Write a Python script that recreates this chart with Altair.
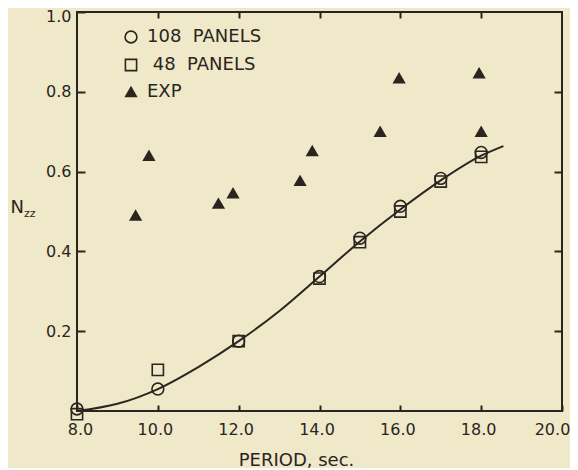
import altair as alt
import pandas as pd

# ---- data ----
period_108 = [8.0, 10.0, 12.0, 14.0, 15.0, 16.0, 17.0, 18.0]
n_108 = [0.005, 0.055, 0.175, 0.337, 0.433, 0.513, 0.583, 0.648]

period_48 = [8.0, 10.0, 12.0, 14.0, 15.0, 16.0, 17.0, 18.0]
n_48 = [-0.008, 0.103, 0.175, 0.332, 0.423, 0.500, 0.575, 0.637]

period_exp = [9.45, 9.78, 11.5, 11.86, 13.52, 13.82, 15.5, 15.97, 17.95, 18.0]
n_exp = [0.49, 0.64, 0.52, 0.546, 0.577, 0.652, 0.70, 0.834, 0.847, 0.70]

curve_period = [8.0, 9.0, 10.0, 11.0, 12.0, 13.0, 14.0, 15.0, 16.0, 17.0, 18.0, 18.55]
curve_n = [0.0, 0.018, 0.055, 0.11, 0.175, 0.25, 0.337, 0.425, 0.505, 0.578, 0.64, 0.664]

series_names = ["108\u00a0\u00a0PANELS", "\u200b\u00a048\u00a0\u00a0PANELS", "EXP"]
x_ticks = [8.0, 10.0, 12.0, 14.0, 16.0, 18.0, 20.0]
x_ticks_top = [10.0, 12.0, 14.0, 16.0, 18.0]
y_ticks = [0.2, 0.4, 0.6, 0.8, 1.0]
y_ticks_right = [0.2, 0.4, 0.6, 0.8]
subscript_text = ["zz"]

INK = "#2b2520"
BG = "#efe9c9"
FONT = "DejaVu Sans"

points = pd.DataFrame(
    {
        "period": period_108 + period_48 + period_exp,
        "n": n_108 + n_48 + n_exp,
        "series": [series_names[0]] * len(period_108)
        + [series_names[1]] * len(period_48)
        + [series_names[2]] * len(period_exp),
    }
)
curve = pd.DataFrame({"period": curve_period, "n": curve_n})
sub = pd.DataFrame({"t": subscript_text})

xscale = alt.Scale(domain=[8, 20], nice=False, zero=False)
yscale = alt.Scale(domain=[0, 1], nice=False, zero=False)

x_bottom = alt.Axis(
    orient="bottom", values=x_ticks, format=".1f", offset=-6, tickSize=6, tickWidth=2,
    tickColor=INK, domain=False, grid=False, labelFont=FONT, labelFontSize=16,
    labelColor=INK, labelPadding=10, labelFlush=False,
    labelOffset={
        "condition": [
            {"test": "datum.value <= 8", "value": 3},
            {"test": "datum.value >= 20", "value": -10},
        ],
        "value": -3,
    },
    title="PERIOD, sec.", titleFont=FONT,
    titleFontSize=18, titleFontWeight="normal", titleColor=INK, titleX=219,
    titleY=60, titleAnchor="start", titleAlign="center", titleBaseline="alphabetic",
)
y_left = alt.Axis(
    orient="left", values=y_ticks, format=".1f", offset=-8, tickSize=8, tickWidth=2,
    tickColor=INK, domain=False, grid=False, labelFont=FONT, labelFontSize=16,
    labelColor=INK, labelPadding=6, labelFlush=False,
    labelOffset={"condition": {"test": "datum.value >= 0.99", "value": 4}, "value": 0},
    title="N", titleFont=FONT, titleFontSize=18,
    titleFontWeight="normal", titleColor=INK, titleAngle=0, titleX=-75, titleY=200,
    titleAlign="left", titleBaseline="alphabetic",
)
x_top = alt.Axis(
    orient="top", values=x_ticks_top, offset=-6, tickSize=6, tickWidth=2,
    tickColor=INK, domain=False, grid=False, labels=False, title=None,
)
y_right = alt.Axis(
    orient="right", values=y_ticks_right, offset=-8, tickSize=8, tickWidth=2,
    tickColor=INK, domain=False, grid=False, labels=False, title=None,
)

legend = alt.Legend(
    title=None, orient="none", legendX=45, legendY=16, padding=0,
    rowPadding=9, labelFont=FONT, labelFontSize=18, labelColor=INK,
    labelOffset=7, symbolStrokeWidth=1.6, labelBaseline="middle",
)

line = alt.Chart(curve).mark_line(
    color=INK, strokeWidth=2, interpolate="monotone"
).encode(
    x=alt.X("period:Q", scale=xscale, axis=x_bottom),
    y=alt.Y("n:Q", scale=yscale, axis=y_left),
)

pts = alt.Chart(points).mark_point(strokeWidth=1.6, opacity=1).encode(
    x=alt.X("period:Q", scale=xscale, axis=x_top),
    y=alt.Y("n:Q", scale=yscale, axis=y_right),
    shape=alt.Shape(
        "series:N",
        scale=alt.Scale(domain=series_names, range=["circle", "square", "triangle-up"]),
        legend=legend,
    ),
    fill=alt.Fill(
        "series:N",
        scale=alt.Scale(domain=series_names, range=["rgba(0,0,0,0)", "rgba(0,0,0,0)", INK]),
        legend=legend,
    ),
    stroke=alt.Stroke(
        "series:N",
        scale=alt.Scale(domain=series_names, range=[INK, INK, INK]),
        legend=legend,
    ),
    size=alt.Size(
        "series:N",
        scale=alt.Scale(domain=series_names, range=[140, 110, 140]),
        legend=legend,
    ),
)

subscript = alt.Chart(sub).mark_text(
    font=FONT, fontSize=11, color=INK, align="left", baseline="alphabetic"
).encode(text="t:N", x=alt.value(-53), y=alt.value(205))

chart = (
    alt.layer(line, pts, subscript)
    .resolve_axis(x="independent", y="independent")
    .properties(
        width=485,
        height=399,
        autosize=alt.AutoSizeParams(type="none"),
        padding={"left": 69, "top": 4, "right": 8, "bottom": 57},
        background=BG,
    )
    .configure_view(stroke=INK, strokeWidth=2, fill=BG)
)

chart.save("out.html", embed_options={"renderer": "svg", "actions": False})
